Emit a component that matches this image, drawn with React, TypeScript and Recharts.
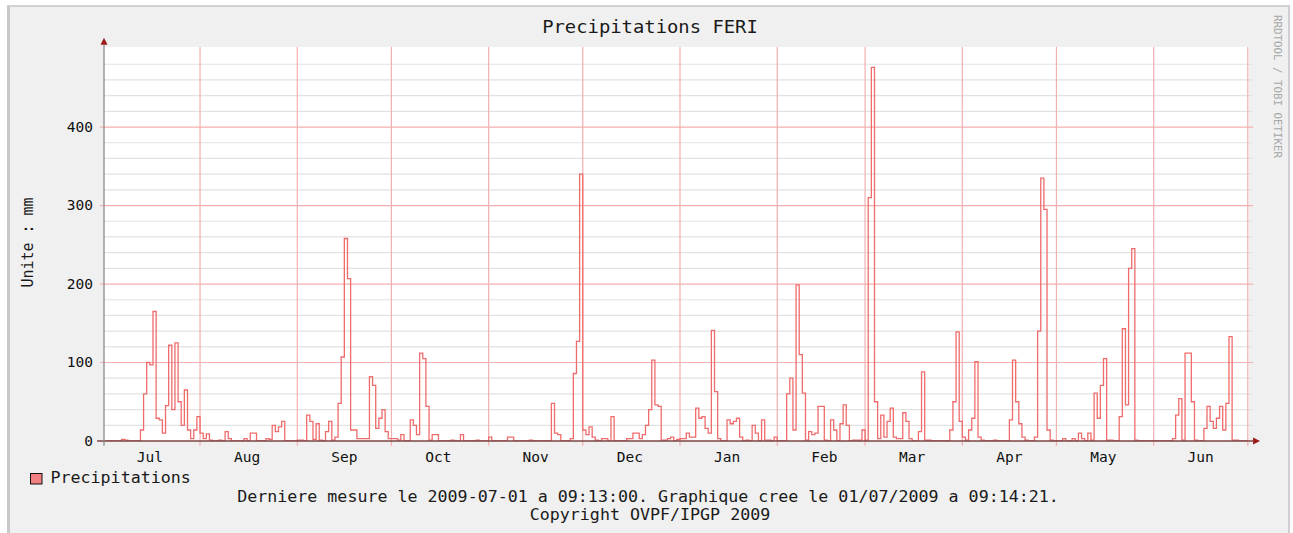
import React from 'react';
import { LineChart, Line, XAxis, YAxis, ReferenceLine, ReferenceArea, ReferenceDot } from 'recharts';

// Calendar of the plotted year (2008-07 .. 2009-06)
const MONTHS = ['Jul', 'Aug', 'Sep', 'Oct', 'Nov', 'Dec', 'Jan', 'Feb', 'Mar', 'Apr', 'May', 'Jun'];
const MONTH_DAYS = [31, 31, 30, 31, 30, 31, 31, 28, 31, 30, 31, 30];

// Daily precipitation (mm), one value per day of each month
const jul = [0, 0, 0, 0, 0, 0, 2, 1, 0, 0, 0, 0, 14, 60, 100, 97, 165, 29, 27, 10, 45, 122, 40, 125, 50, 20, 65, 14, 3, 14, 31];
const aug = [10, 3, 9, 1, 0, 0, 1, 0, 12, 3, 0, 0, 0, 0, 3, 0, 10, 10, 0, 0, 0, 3, 2, 20, 12, 18, 25, 0, 0, 0, 0];
const sep = [1, 1, 0, 33, 25, 2, 22, 1, 0, 12, 25, 1, 5, 48, 107, 258, 207, 14, 14, 3, 3, 3, 3, 82, 71, 16, 29, 40, 12, 3];
const oct = [3, 3, 1, 8, 0, 0, 27, 20, 8, 112, 105, 44, 1, 8, 8, 0, 0, 0, 0, 1, 0, 0, 8, 0, 0, 0, 0, 1, 0, 0, 0];
const nov = [5, 0, 0, 0, 0, 0, 5, 5, 0, 0, 0, 0, 0, 1, 0, 0, 0, 0, 0, 0, 48, 10, 8, 0, 0, 0, 3, 86, 127, 340];
const dec = [14, 8, 18, 5, 1, 0, 3, 3, 0, 31, 0, 0, 0, 0, 3, 3, 10, 10, 3, 8, 20, 40, 103, 46, 44, 1, 1, 3, 5, 0, 2];
const jan = [3, 3, 10, 5, 5, 42, 29, 31, 16, 10, 141, 63, 3, 0, 0, 27, 22, 25, 29, 5, 0, 1, 0, 20, 10, 0, 27, 1, 1, 0, 5];
const feb = [0, 0, 0, 60, 80, 14, 199, 110, 61, 1, 12, 8, 10, 44, 44, 1, 0, 27, 14, 0, 22, 46, 20, 0, 1, 1, 1, 14];
const mar = [1, 310, 476, 50, 3, 33, 5, 25, 42, 5, 3, 3, 36, 25, 3, 0, 0, 12, 88, 1, 1, 0, 0, 0, 0, 0, 0, 14, 50, 139, 25];
const apr = [5, 1, 14, 29, 101, 5, 1, 0, 0, 0, 1, 0, 0, 0, 0, 27, 103, 50, 22, 5, 1, 0, 0, 5, 140, 335, 295, 14, 1, 0];
const may = [0, 0, 3, 0, 0, 3, 0, 10, 3, 0, 10, 1, 61, 29, 71, 105, 1, 1, 0, 0, 31, 143, 46, 220, 245, 1, 0, 0, 0, 0, 0];
const jun = [0, 0, 0, 0, 0, 0, 3, 33, 54, 1, 112, 112, 50, 1, 0, 0, 16, 44, 25, 16, 29, 44, 14, 48, 133, 1, 1, 0, 0, 0];

const MONTHLY = [jul, aug, sep, oct, nov, dec, jan, feb, mar, apr, may, jun];

// Axis ticks / grid levels
const Y_TICKS = [0, 100, 200, 300, 400];
const Y_MAJOR = [100, 200, 300, 400];
const Y_MINOR = [20, 40, 60, 80, 120, 140, 160, 180, 220, 240, 260, 280, 320, 340, 360, 380, 420, 440, 460, 480];
const Y_MAX = 502;

// graph starts 2008-07-01 09:13 and ends one year later
const START = (9 + 13 / 60) / 24;
const END = START + 365;

const data: { day: number; v: number }[] = [];
{
  let d = 0;
  MONTHLY.forEach((arr) => arr.forEach((v) => { data.push({ day: d, v }); d++; }));
  data.push({ day: d, v: jun[jun.length - 1] });
}

const monthStarts: number[] = [];
{
  let s = 0;
  MONTH_DAYS.forEach((n) => { monthStarts.push(s); s += n; });
}
const boundaries = monthStarts.slice(1).concat([365]);
const labelTicks = monthStarts.map((s) => s + 15);

const MONO = '"DejaVu Sans Mono", monospace';

const XTick = (props: any) => {
  const { x, y, payload } = props;
  const i = labelTicks.indexOf(payload.value);
  const label = MONTHS[i] ?? '';
  return (
    <text x={x} y={y} dy={12.5} textAnchor="middle" fontFamily={MONO} fontSize={13.2} fill="#111"
      textLength={label.length * 8.75} lengthAdjust="spacingAndGlyphs">{label}</text>
  );
};

const YTick = (props: any) => {
  const { x, y, payload } = props;
  const label = String(payload.value);
  return (
    <text x={x} y={y} dy={4.6} textAnchor="end" fontFamily={MONO} fontSize={13.2} fill="#111"
      textLength={label.length * 8.75} lengthAdjust="spacingAndGlyphs">{label}</text>
  );
};

const upArrow = (p: any) => (
  <path d={`M${p.cx - 3.5},${p.cy} L${p.cx + 3.5},${p.cy} L${p.cx},${p.cy - 7} Z`} fill="#9b1b1b" />
);
const rightArrow = (p: any) => (
  <path d={`M${p.cx},${p.cy - 3.5} L${p.cx},${p.cy + 3.5} L${p.cx + 7},${p.cy} Z`} fill="#9b1b1b" />
);

export default function App() {
  return (
    <div style={{ position: 'absolute', left: 0, top: 0, width: 1293, height: 533, background: '#fff', overflow: 'hidden' }}>
      <div style={{
        position: 'absolute', left: 7, top: 5, width: 1278, height: 540, background: '#f0f0f0',
        borderLeft: '3px solid #c8c8c8', borderTop: '2px solid #d2d2d2', borderRight: '2px solid #cfcfcf',
      }} />
      <div style={{ position: 'absolute', left: 0, top: 0 }}>
        <LineChart width={1293} height={533} data={data} margin={{ top: 47, right: 44, bottom: 62, left: 44 }}>
          <XAxis dataKey="day" type="number" domain={[START, END]} allowDataOverflow ticks={labelTicks}
            tick={<XTick />} tickLine={false} axisLine={false} height={30} interval={0} />
          <YAxis type="number" domain={[0, Y_MAX]} allowDataOverflow ticks={Y_TICKS} tick={<YTick />}
            tickLine={false} axisLine={false} width={60} tickMargin={5} interval={0} />
          <ReferenceArea x1={START} x2={END} y1={0} y2={Y_MAX} fill="#ffffff" fillOpacity={1} stroke="none" ifOverflow="visible" />
          {Y_MINOR.map((v) => (
            <ReferenceLine key={'mi' + v} segment={[{ x: START, y: v }, { x: END + 1, y: v }]}
              stroke="#e2e2e2" strokeWidth={1.2} ifOverflow="visible" />
          ))}
          {Y_MAJOR.map((v) => (
            <ReferenceLine key={'ma' + v} segment={[{ x: START - 1.3, y: v }, { x: END + 1.3, y: v }]}
              stroke="#f4b0b0" strokeWidth={1.2} ifOverflow="visible" />
          ))}
          {boundaries.map((b) => (
            <ReferenceLine key={'vb' + b} segment={[{ x: b, y: -6 }, { x: b, y: Y_MAX }]}
              stroke="#f4b0b0" strokeWidth={1.2} ifOverflow="visible" />
          ))}
          <Line type="stepAfter" dataKey="v" stroke="#f06c6c" strokeWidth={1.3} dot={false} activeDot={false}
            isAnimationActive={false} />
          <ReferenceLine segment={[{ x: START - 2.2, y: 0 }, { x: END + 1.3, y: 0 }]} stroke="#7a4444" strokeWidth={1.3} ifOverflow="visible" />
          <ReferenceLine segment={[{ x: START, y: -6 }, { x: START, y: Y_MAX + 3 }]} stroke="#8a8a8a" strokeWidth={1.3} ifOverflow="visible" />
          <ReferenceDot x={START} y={Y_MAX + 3} r={0} ifOverflow="visible" shape={upArrow} />
          <ReferenceDot x={END + 1.3} y={0} r={0} ifOverflow="visible" shape={rightArrow} />
        </LineChart>
      </div>
      <svg width={1293} height={533} style={{ position: 'absolute', left: 0, top: 0, pointerEvents: 'none' }}>
        <text x={650} y={32.6} textAnchor="middle" fontFamily={MONO} fontSize={16.8} fill="#1a1a1a"
          textLength={19 * 11.35} lengthAdjust="spacingAndGlyphs">Precipitations FERI</text>
        <text transform="translate(33.3,242.5) rotate(-90)" textAnchor="middle" fontFamily={MONO} fontSize={15}
          fill="#1a1a1a" textLength={90} lengthAdjust="spacingAndGlyphs">Unite : mm</text>
        <text transform="translate(1273.5,15) rotate(90)" textAnchor="start" fontFamily={MONO} fontSize={10.8}
          fill="#a6a6a6" textLength={143} lengthAdjust="spacingAndGlyphs">RRDTOOL / TOBI OETIKER</text>
        <rect x={30.5} y={473.5} width={11.5} height={10.5} fill="#f08080" stroke="#111" strokeWidth={1} />
        <text x={50.5} y={483} fontFamily={MONO} fontSize={15} fill="#1a1a1a"
          textLength={14 * 10.02} lengthAdjust="spacingAndGlyphs">Precipitations</text>
        <text x={648} y={502.3} textAnchor="middle" fontFamily={MONO} fontSize={15} fill="#1a1a1a"
          textLength={82 * 10.02} lengthAdjust="spacingAndGlyphs">Derniere mesure le 2009-07-01 a 09:13:00. Graphique cree le 01/07/2009 a 09:14:21.</text>
        <text x={650} y={519.5} textAnchor="middle" fontFamily={MONO} fontSize={15} fill="#1a1a1a"
          textLength={24 * 10.02} lengthAdjust="spacingAndGlyphs">Copyright OVPF/IPGP 2009</text>
      </svg>
    </div>
  );
}
